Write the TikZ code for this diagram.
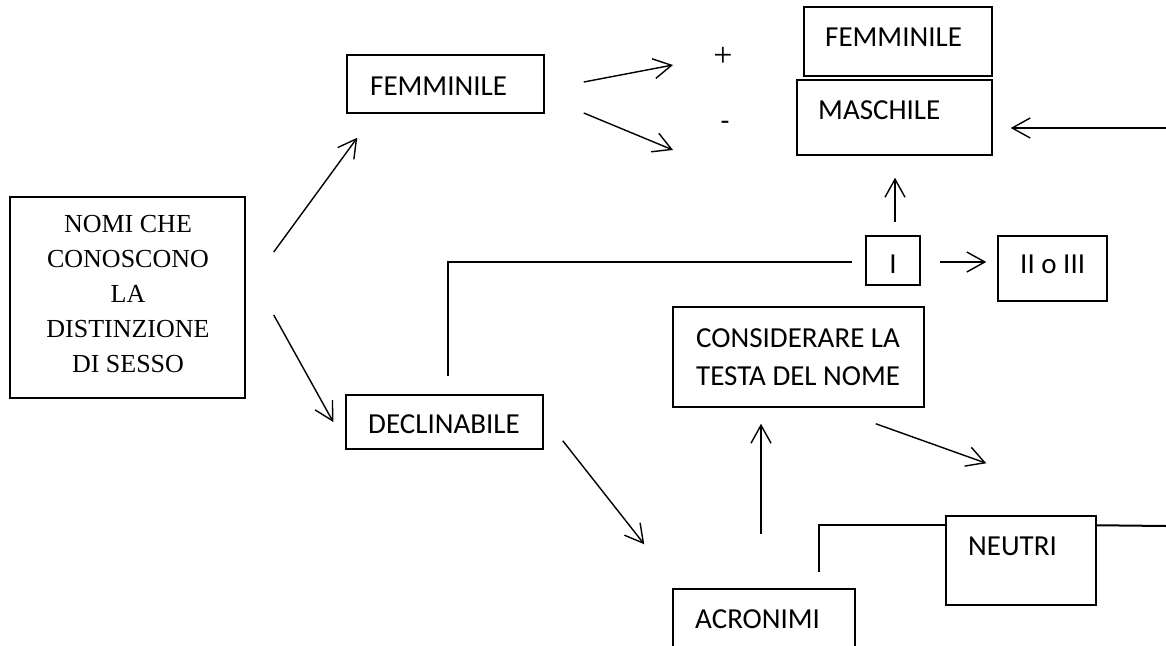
\documentclass[tikz,border=0pt]{standalone}
\usepackage{fontspec}
\setmainfont{Liberation Serif}
\newfontfamily\calfont{Carlito}
\usetikzlibrary{arrows.meta,calc}
\begin{document}
\begin{tikzpicture}[x=1pt,y=-1pt,
  box/.style={draw,line width=1.5pt,inner sep=0pt},
  lbl/.style={anchor=base west,inner sep=0pt,font=\calfont\fontsize{29}{38}\selectfont},
  arr/.style={line width=1.4pt,-{Straight Barb[length=18pt,width=20pt,line width=1.4pt]}},
  wire/.style={line width=2pt}]
\path[use as bounding box] (0,0) rectangle (1166,645);
\fill[white] (0,0) rectangle (1166,645);
\clip (0,0) rectangle (1166,645);

% boxes
\node[box,minimum width=235pt,minimum height=201pt] (nomi) at (127.5,297.5) {};
\node[box,minimum width=197pt,minimum height=58pt] (fem1) at (445.5,84) {};
\node[box,minimum width=197pt,minimum height=54pt] (decl) at (444.5,422) {};
\node[box,minimum width=188pt,minimum height=69pt] (fem2) at (898,41.5) {};
\node[box,minimum width=195pt,minimum height=75pt] (masc) at (894.5,117.5) {};
\node[box,minimum width=54pt,minimum height=49pt] (ibox) at (893,260.5) {};
\node[box,minimum width=109pt,minimum height=65pt] (iibox) at (1052.5,268.5) {};
\node[box,minimum width=251pt,minimum height=100pt] (cons) at (798.5,357) {};
\node[box,minimum width=182pt,minimum height=90pt] (acro) at (764,634) {};
\node[box,minimum width=150pt,minimum height=89pt] (neutri) at (1021,560.5) {};

% texts
\node[inner sep=0pt,align=center,font=\fontsize{26}{35}\selectfont] (nomitxt) at (128,294.5)
  {NOMI CHE\\CONOSCONO\\LA\\DISTINZIONE\\DI SESSO};
\node[lbl] (fem1txt) at (370,95) {FEMMINILE};
\node[lbl] (decltxt) at (368,433) {DECLINABILE};
\node[lbl] (fem2txt) at (825,46) {FEMMINILE};
\node[lbl] (masctxt) at (818,119) {MASCHILE};
\node[lbl,anchor=base] (itxt) at (893,273) {I};
\node[lbl] (iitxt) at (1020,273) {II o III};
\node[lbl] (constxt1) at (696,347) {CONSIDERARE LA};
\node[lbl] (constxt2) at (696,385) {TESTA DEL NOME};
\node[lbl] (neutritxt) at (968,555) {NEUTRI};
\node[lbl] (acrotxt) at (695,628) {ACRONIMI};
\node[inner sep=0pt,font=\fontsize{34}{36}\selectfont] (plus) at (723,57) {+};
\node[inner sep=0pt,font=\calfont\fontsize{29}{30}\selectfont] (minus) at (725,126) {-};

% free ends
\coordinate (rin) at (1166,128);
\coordinate (rout) at (1166,526);

% connectors
\draw[arr] ($(nomi.east)+(28,-45.5)$) -- ($(fem1.south west)+(11,24)$);
\draw[arr] ($(nomi.east)+(28,17.5)$) -- ($(decl.west)+(-12,0)$);
\draw[arr] ($(fem1.east)+(39,-2)$) -- ($(plus)+(-50,8)$);
\draw[arr] ($(fem1.east)+(39,29)$) -- ($(minus)+(-52,24)$);
\draw[arr] (rin) -- ($(masc.east)+(18,10.5)$);
\draw[arr] ($(ibox.north)+(2,-13)$) -- ($(masc.south)+(0.5,22)$);
\draw[wire] ($(ibox.west)+(-13,1.5)$) -| ($(decl.north)+(3.5,-18)$);
\draw[arr] ($(ibox.east)+(19,1.5)$) -- ($(iibox.west)+(-11,-6.5)$);
\draw[arr] ($(acro.north)+(-3,-54)$) -- ($(cons.south)+(-37.5,16)$);
\draw[arr] ($(cons.south east)+(-49,16)$) -- ($(neutri.north west)+(41,-52)$);
\draw[arr] ($(decl.south east)+(19,-9)$) -- ($(acro.north west)+(-28,-44)$);
\draw[wire] ($(acro.north east)+(-37,-16)$) |- ($(neutri.north west)+(0,10)$);
\draw[wire] ($(neutri.north east)+(0,10)$) -- (rout);
\end{tikzpicture}
\end{document}
